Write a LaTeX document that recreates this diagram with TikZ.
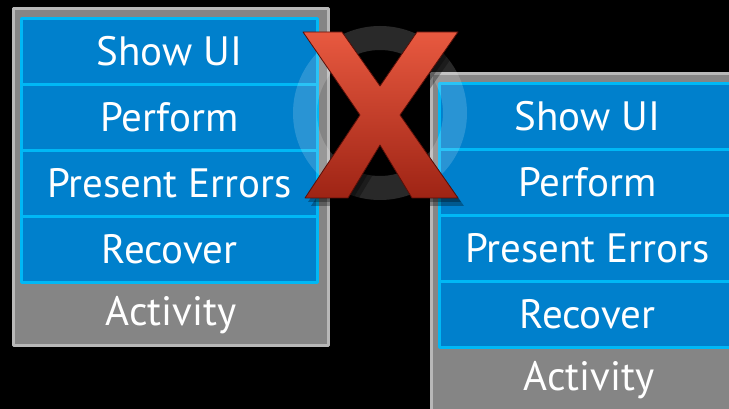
\documentclass[tikz,border=0pt]{standalone}
\usepackage{fontspec}
\setmainfont{PT Sans}
\usepackage{tikz}
\definecolor{cellblue}{rgb}{0.0,0.5,0.8}
\definecolor{cellcyan}{rgb}{0.0,0.72,0.96}
\definecolor{boxgray}{rgb}{0.52,0.52,0.52}
\definecolor{rimgray}{rgb}{0.72,0.72,0.72}
\definecolor{xtop}{rgb}{0.91,0.35,0.25}
\definecolor{xmid}{rgb}{0.85,0.2,0.1}
\definecolor{xbot}{rgb}{0.62,0.14,0.08}
\definecolor{xrim}{rgb}{0.35,0.06,0.03}
\tikzset{
  frame/.style={draw=rimgray,fill=boxgray,line width=3pt,minimum width=315pt,minimum height=337pt,inner sep=0pt},
  cell/.style={draw=cellcyan,fill=cellblue,line width=3pt,minimum width=296pt,minimum height=66pt,inner sep=0pt,text=white,font=\fontsize{41}{41}\selectfont},
  caption/.style={text=white,inner sep=0pt,font=\fontsize{41}{41}\selectfont}
}

\begin{document}
\begin{tikzpicture}[line cap=round,line join=round,x=1pt,y=-1pt]
\useasboundingbox (0,0) rectangle (729,409);
\clip (0,0) rectangle (729,409);
\fill[black] (0,0) rectangle (729,409);
\node[frame] (lframe) at (171,177) {};
\node[cell] (lshow) at (169.5,51.5) {Show UI};
\node[cell] (lperform) at (169.5,117.5) {Perform};
\node[cell] (lerrors) at (169.5,183.5) {Present Errors};
\node[cell] (lrecover) at (169.5,249.5) {Recover};
\node[caption] (lact) at (171,315) {Activity};
\node[frame] (rframe) at (589,242) {};
\node[cell] (rshow) at (587.5,116.5) {Show UI};
\node[cell] (rperform) at (587.5,182.5) {Perform};
\node[cell] (rerrors) at (587.5,248.5) {Present Errors};
\node[cell] (rrecover) at (587.5,314.5) {Recover};
\node[caption] (ract) at (589,380) {Activity};
\fill[white,fill opacity=0.16,even odd rule] (380,113) circle (87) (380,113) circle (63);
\fill[black,opacity=0.3] (306,36) -- (345,36) -- (383,90) -- (420,36) -- (461,36) -- (403,119) -- (461,202) -- (415,202) -- (383,149) -- (351,202) -- (308,202) -- (363,119) -- cycle;
\fill[black,opacity=0.3] (309,40) -- (348,40) -- (386,94) -- (423,40) -- (464,40) -- (406,123) -- (464,206) -- (418,206) -- (386,153) -- (354,206) -- (311,206) -- (366,123) -- cycle;
\shade[top color=xtop,middle color=xmid,bottom color=xbot,draw=xrim,line width=0.8pt] (303,32) -- (342,32) -- (380,86) -- (417,32) -- (458,32) -- (400,115) -- (458,198) -- (412,198) -- (380,145) -- (348,198) -- (305,198) -- (360,115) -- cycle;
\end{tikzpicture}
\end{document}
